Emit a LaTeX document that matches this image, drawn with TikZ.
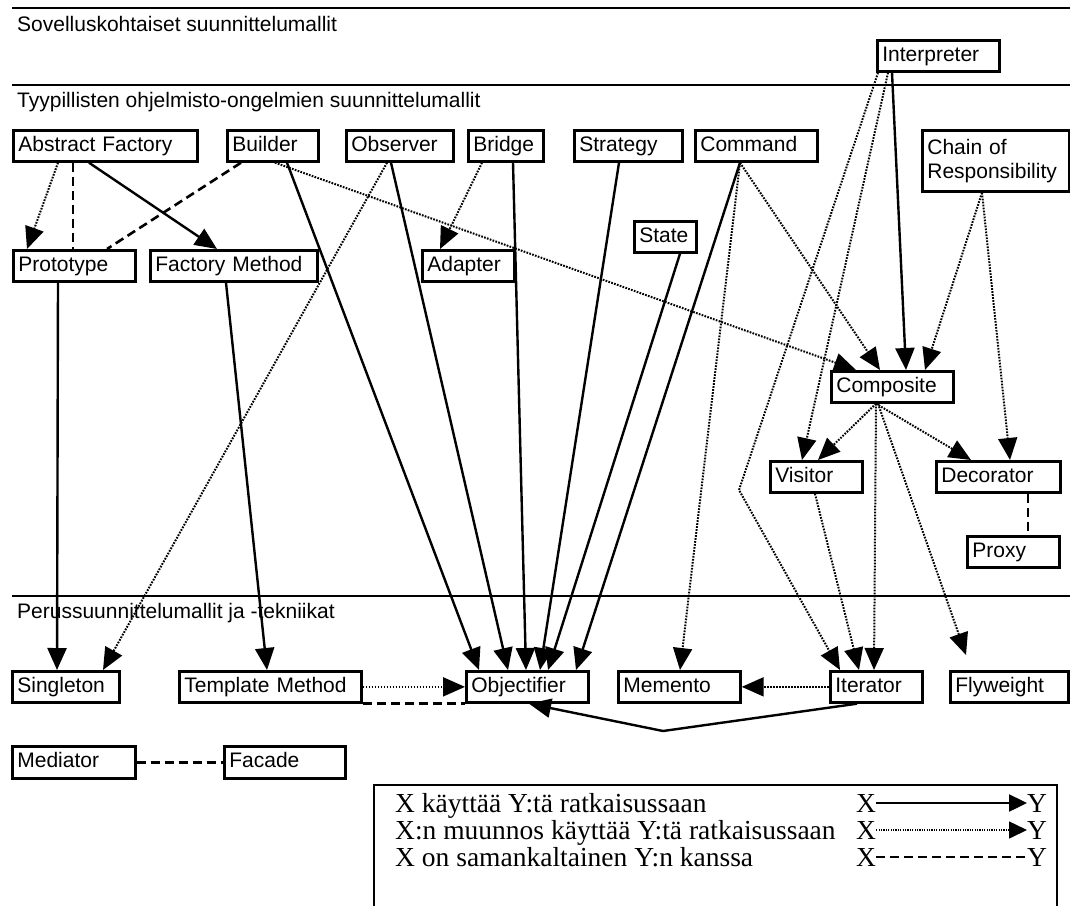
\documentclass[tikz,border=0pt]{standalone}
\usepackage{fontspec}
\setmainfont{Liberation Sans}
\newfontfamily\legendfont{Liberation Serif}
\usetikzlibrary{arrows.meta}

\tikzset{
  pbox/.style={draw, line width=2.7pt, fill=white, inner xsep=5pt, inner ysep=0pt,
    anchor=north west, align=left, font=\fontsize{21}{25}\selectfont,
    text height=15.5pt, text depth=4.5pt},
  pbox2/.style={draw, line width=2.7pt, fill=white, inner xsep=5pt, inner ysep=0pt,
    anchor=north west, align=left, font=\fontsize{21}{24}\selectfont},
  sectlabel/.style={anchor=base west, inner sep=0pt, font=\fontsize{21}{25}\selectfont},
  rule/.style={line width=2.5pt},
  uses/.style={line width=2.4pt, -{Triangle[length=22pt,width=19pt]}},
  variant/.style={line width=2pt, dash pattern=on 1.7pt off 1.3pt,
    -{Triangle[length=22pt,width=19pt]}},
  similar/.style={line width=2.6pt, dash pattern=on 9pt off 5pt},
  legendtext/.style={anchor=base west, inner sep=0pt, font=\legendfont\fontsize{27.5}{32}\selectfont},
  legendframe/.style={line width=2.4pt},
  legenduses/.style={line width=2.4pt, -{Triangle[length=18pt,width=17pt]}},
  legendvariant/.style={line width=1.5pt, dash pattern=on 1.2pt off 1.2pt,
    -{Triangle[length=18pt,width=17pt]}},
  legendsimilar/.style={line width=2.4pt, dash pattern=on 9pt off 5pt},
}

% pattern box: name, left, top, right, bottom, text
\newcommand\patbox[6]{%
  \pgfmathsetmacro\pbw{#4-#2-10}%
  \pgfmathsetmacro\pbh{#5-#3}%
  \node[pbox, text width=\pbw pt, minimum height=\pbh pt] (#1) at (#2,#3) {#6};}

\begin{document}
\begin{tikzpicture}[x=1pt,y=-1pt]
\useasboundingbox (0,0) rectangle (1070,905);

% level rules and their titles
\draw[rule] (12,8) -- (1070,8);
\draw[rule] (12,85) -- (1070,85);
\draw[rule] (12,596) -- (1070,596);
\node[sectlabel] (lev1) at (17,31) {Sovelluskohtaiset suunnittelumallit};
\node[sectlabel] (lev2) at (17,107) {Tyypillisten ohjelmisto-ongelmien suunnittelumallit};
\node[sectlabel] (lev3) at (17,618) {Perussuunnittelumallit ja -tekniikat};

% patterns
\patbox{interp}{876}{39}{998}{70}{Interpreter}
\patbox{absfac}{12}{129}{196}{160}{Abstract Factory}
\patbox{builder}{226}{129}{317}{160}{Builder}
\patbox{observer}{345}{129}{452}{160}{Observer}
\patbox{bridge}{467}{129}{542}{160}{Bridge}
\patbox{strategy}{573}{129}{681}{160}{Strategy}
\patbox{command}{694}{129}{816}{160}{Command}
\node[pbox2, text width=137pt, minimum height=61pt] (chain) at (921,129)
  {Chain of\\Responsibility};
\patbox{state}{633}{220}{695}{251}{State}
\patbox{proto}{12}{249}{134}{280}{Prototype}
\patbox{facmeth}{149}{249}{316}{280}{Factory Method}
\patbox{adapter}{421}{249}{513}{280}{Adapter}
\patbox{composite}{830}{370}{952}{401}{Composite}
\patbox{visitor}{769}{460}{861}{491}{Visitor}
\patbox{decorator}{935}{460}{1059}{491}{Decorator}
\patbox{proxy}{966}{535}{1058}{566}{Proxy}
\patbox{singleton}{11}{670}{118}{701}{Singleton}
\patbox{tmethod}{178}{670}{360}{701}{Template Method}
\patbox{objectifier}{465}{670}{587}{701}{Objectifier}
\patbox{memento}{617}{670}{739}{701}{Memento}
\patbox{iterator}{829}{670}{921}{701}{Iterator}
\patbox{flyweight}{949}{670}{1067}{701}{Flyweight}
\patbox{mediator}{11}{745}{134}{777}{Mediator}
\patbox{facade}{223}{745}{344}{777}{Facade}

\coordinate (itbend) at (663,731);
\coordinate (inbend) at (739,490);
\coordinate (flyend) at (966,655);

% X uses Y
\draw[uses] ([xshift=77pt]absfac.south west) -- ([xshift=68pt]facmeth.north west);
\draw[uses] ([xshift=61pt]builder.south west) -- ([xshift=14pt]objectifier.north west);
\draw[uses] ([xshift=46pt]observer.south west) -- ([xshift=43pt]objectifier.north west);
\draw[uses] ([xshift=46pt]bridge.south west) -- ([xshift=61pt]objectifier.north west);
\draw[uses] ([xshift=46pt]strategy.south west) -- ([xshift=75pt]objectifier.north west);
\draw[uses] ([xshift=47pt]state.south west) -- ([xshift=83pt]objectifier.north west);
\draw[uses] ([xshift=46pt]command.south west) -- ([xshift=111pt]objectifier.north west);
\draw[uses] ([xshift=46pt]proto.south west) -- ([xshift=46pt]singleton.north west);
\draw[uses] ([xshift=77pt]facmeth.south west) -- ([xshift=89pt]tmethod.north west);
\draw[uses] ([xshift=16pt]interp.south west) -- ([xshift=76pt]composite.north west);
\draw[uses] ([xshift=28pt]iterator.south west) -- (itbend) -- ([xshift=64pt]objectifier.south west);

% a variant of X uses Y
\draw[variant] ([xshift=46pt]absfac.south west) -- ([xshift=15pt]proto.north west);
\draw[variant] ([xshift=49pt]builder.south west) -- ([xshift=26pt]composite.north west);
\draw[variant] ([xshift=42pt]observer.south west) -- ([xshift=92pt]singleton.north west);
\draw[variant] ([xshift=15pt]bridge.south west) -- ([xshift=19pt]adapter.north west);
\draw[variant] ([xshift=46pt]command.south west) -- ([xshift=63pt]memento.north west);
\draw[variant] ([xshift=46pt]command.south west) -- ([xshift=50pt]composite.north west);
\draw[variant] ([xshift=2pt]interp.south west) -- (inbend) -- ([xshift=11pt]iterator.north west);
\draw[variant] ([xshift=12pt]interp.south west) -- ([xshift=33pt]visitor.north west);
\draw[variant] ([xshift=61pt]chain.south west) -- ([xshift=95pt]composite.north west);
\draw[variant] ([xshift=61pt]chain.south west) -- ([xshift=75pt]decorator.north west);
\draw[variant] ([xshift=46pt]composite.south west) -- ([xshift=49pt]visitor.north west);
\draw[variant] ([xshift=46pt]composite.south west) -- ([xshift=36pt]decorator.north west);
\draw[variant] ([xshift=46pt]composite.south west) -- ([xshift=45pt]iterator.north west);
\draw[variant] ([xshift=48pt]composite.south west) -- (flyend);
\draw[variant] ([xshift=46pt]visitor.south west) -- ([xshift=30pt]iterator.north west);
\draw[variant] (iterator.west) -- (memento.east);
\draw[variant] (tmethod.east) -- (objectifier.west);

% X is similar to Y
\draw[similar] ([xshift=61pt]absfac.south west) -- ([xshift=61pt]proto.north west);
\draw[similar] ([xshift=15pt]builder.south west) -- ([xshift=95pt]proto.north west);
\draw[similar] ([xshift=93pt]decorator.south west) -- ([xshift=62pt]proxy.north west);
\draw[similar] (mediator.east) -- (facade.west);
\draw[similar] (tmethod.south east) -- (objectifier.south west);

% key
\draw[legendframe] (374,785) rectangle (1057,912);
\node[legendtext] (key1) at (395,812) {X käyttää Y:tä ratkaisussaan};
\node[legendtext] (key2) at (395,839) {X:n muunnos käyttää Y:tä ratkaisussaan};
\node[legendtext] (key3) at (395,866) {X on samankaltainen Y:n kanssa};
\node[legendtext] (kx1) at (856,812) {X};
\node[legendtext] (ky1) at (1027,812) {Y};
\node[legendtext] (kx2) at (856,839) {X};
\node[legendtext] (ky2) at (1027,839) {Y};
\node[legendtext] (kx3) at (856,866) {X};
\node[legendtext] (ky3) at (1027,866) {Y};
\draw[legenduses] (kx1.east) -- (ky1.west);
\draw[legendvariant] (kx2.east) -- (ky2.west);
\draw[legendsimilar] (kx3.east) -- (ky3.west);
\end{tikzpicture}
\end{document}
